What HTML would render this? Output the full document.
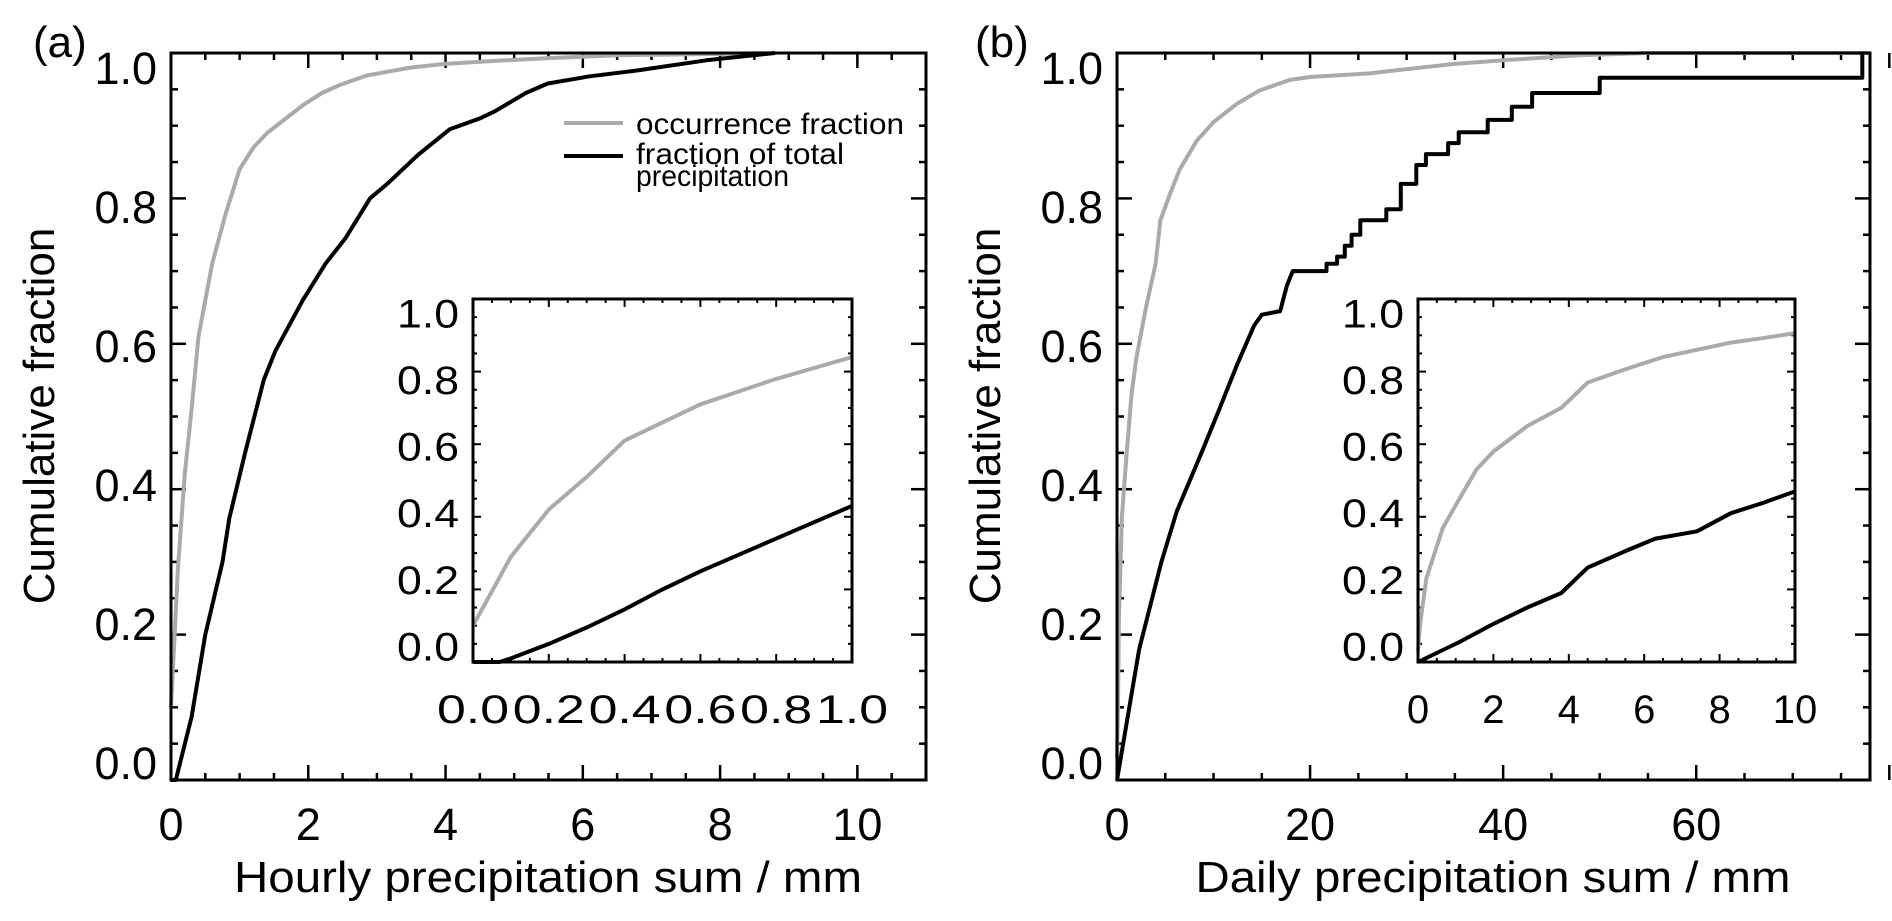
<!DOCTYPE html>
<html><head><meta charset="utf-8"><style>
html,body{margin:0;padding:0;background:#fff;}
svg{display:block;font-family:"Liberation Sans",Arial,sans-serif;}
</style></head><body>
<svg id="fig" width="1892" height="921" viewBox="0 0 1892 921" xmlns="http://www.w3.org/2000/svg">
<rect width="1892" height="921" fill="#fff"/>
<text x="33" y="57" font-size="44">(a)</text>
<text x="975" y="57" font-size="44">(b)</text>
<text transform="translate(54,416) rotate(-90)" text-anchor="middle" font-size="44">Cumulative fraction</text>
<text transform="translate(1000,416) rotate(-90)" text-anchor="middle" font-size="44">Cumulative fraction</text>
<text x="548" y="892" text-anchor="middle" font-size="44" textLength="628" lengthAdjust="spacingAndGlyphs">Hourly precipitation sum / mm</text>
<text x="1493" y="892" text-anchor="middle" font-size="44" textLength="595" lengthAdjust="spacingAndGlyphs">Daily precipitation sum / mm</text>
<g>
<line x1="564" y1="123" x2="623" y2="123" stroke="#aaa" stroke-width="4"/>
<text x="636" y="134" font-size="30" textLength="268" lengthAdjust="spacingAndGlyphs">occurrence fraction</text>
<line x1="564" y1="156" x2="623" y2="156" stroke="#000" stroke-width="4"/>
<text x="636" y="164" font-size="30" textLength="208" lengthAdjust="spacingAndGlyphs">fraction of total</text>
<text x="636" y="186" font-size="30" textLength="153" lengthAdjust="spacingAndGlyphs">precipitation</text>
</g>
</svg>
<script>
// Panel (a) main: hourly
const aOccX = [0,0.1,0.2,0.3,0.4,0.5,0.6,0.7,0.8,0.9,1.0,1.2,1.4,1.7,1.95,2.2,2.46,2.85,3.2,3.5,4.0,4.5,5.5,6.5,7.4,8.8];
const aOccY = [0.1,0.29,0.42,0.51,0.61,0.66,0.71,0.745,0.78,0.81,0.84,0.87,0.89,0.912,0.93,0.945,0.956,0.969,0.975,0.98,0.985,0.988,0.993,0.997,0.998,1.0];
const aTotX = [0,0.07,0.3,0.5,0.75,0.85,1.08,1.35,1.52,1.92,2.25,2.54,2.9,3.15,3.6,4.06,4.5,4.72,5.17,5.49,6.1,6.8,7.8,8.8];
const aTotY = [0,0,0.087,0.2,0.3,0.36,0.45,0.55,0.59,0.66,0.71,0.745,0.8,0.82,0.86,0.895,0.91,0.92,0.945,0.958,0.968,0.976,0.99,1.0];
// Panel (a) inset
const aiOccX = [0,0.1,0.2,0.3,0.4,0.5,0.6,0.7,0.8,0.9,1.0];
const aiOccY = [0.1,0.29,0.42,0.51,0.61,0.66,0.71,0.745,0.78,0.81,0.84];
const aiTotX = [0,0.07,0.1,0.2,0.3,0.4,0.5,0.6,0.7,0.8,0.9,1.0];
const aiTotY = [0,0,0.01,0.05,0.095,0.145,0.2,0.25,0.295,0.34,0.385,0.43];
// Panel (b) main: daily
const bOccX = [0,0.1,0.2,0.5,1,1.5,2,3,4,4.5,5.6,6.5,7.4,8.3,9.2,10,12.4,14.7,17.9,20,26.2,30.8,35,40,48,55,78];
const bOccY = [0.03,0.1,0.22,0.36,0.45,0.53,0.58,0.65,0.71,0.77,0.81,0.84,0.86,0.88,0.893,0.905,0.93,0.948,0.963,0.967,0.972,0.979,0.985,0.99,0.997,1.0,1.0];
const bTotX = [0,2.3,4.6,6.2,8.75,10.6,12.4,14.2,15,16.9,17.2,17.6,18.2,21.7,21.7,22.8,22.8,23.6,23.6,24.3,24.3,25.2,25.2,27.9,27.9,29.4,29.4,31.0,31.0,32.0,32.0,34.3,34.3,35.4,35.4,38.4,38.4,40.9,40.9,43,43,50,50,77.2,77.2];
const bTotY = [0,0.18,0.30,0.37,0.45,0.51,0.57,0.625,0.64,0.645,0.66,0.68,0.70,0.70,0.71,0.71,0.72,0.72,0.735,0.735,0.75,0.75,0.77,0.77,0.785,0.785,0.82,0.82,0.846,0.846,0.861,0.861,0.876,0.876,0.891,0.891,0.908,0.908,0.926,0.926,0.945,0.945,0.966,0.966,1.0];
// Panel (b) inset
const biOccX = [0,0.05,0.22,0.66,1.1,1.55,2,2.9,3.8,4.5,5.6,6.5,7.4,8.3,9.2,10];
const biOccY = [0.03,0.1,0.23,0.37,0.45,0.53,0.58,0.65,0.70,0.77,0.81,0.84,0.86,0.88,0.893,0.906];
const biTotX = [0,1.1,2,2.9,3.8,4.5,5.6,6.3,7.4,8.3,9.2,10];
const biTotY = [0,0.055,0.105,0.15,0.19,0.26,0.31,0.34,0.36,0.41,0.44,0.47];
// Tick labels
const mainYTicks = ["0.0","0.2","0.4","0.6","0.8","1.0"];
const aXTicks = ["0","2","4","6","8","10"];
const bXTicks = ["0","20","40","60"];
const aiXTicks = ["0.0","0.2","0.4","0.6","0.8","1.0"];
const biXTicks = ["0","2","4","6","8","10"];

const NS = "http://www.w3.org/2000/svg";
const svg = document.getElementById('fig');
function mk(tag, attrs, parent){
  const e = document.createElementNS(NS, tag);
  for (const k in attrs) e.setAttribute(k, attrs[k]);
  (parent||svg).appendChild(e);
  return e;
}
function panel(p){
  const g = mk('g', {});
  
  
  const sx = v => p.x0 + (v - p.xmin) / (p.xmax - p.xmin) * (p.x1 - p.x0);
  const sy = v => p.y1 - (v - p.ymin) / (p.ymax - p.ymin) * (p.y1 - p.y0);
  const tg = mk('g', {stroke:'#000','stroke-width':p.tw}, g);
  
  
  const nx = Math.round((p.xmax - p.xmin) / p.xminor);
  for (let i = 0; i <= nx; i++){
    const v = p.xmin + i * p.xminor;
    const major = Math.abs(v / p.xmajor - Math.round(v / p.xmajor)) < 1e-6;
    const L = major ? p.tmaj : p.tmin;
    const X = sx(v);
    mk('line', {x1:X, y1:p.y1, x2:X, y2:p.y1 - L}, tg);
    mk('line', {x1:X, y1:p.y0, x2:X, y2:p.y0 + L}, tg);
  }
  const ny = Math.round((p.ymax - p.ymin) / p.yminor);
  for (let i = 0; i <= ny; i++){
    const v = p.ymin + i * p.yminor;
    const major = Math.abs(v / p.ymajor - Math.round(v / p.ymajor)) < 1e-6;
    const L = major ? p.tmaj : p.tmin;
    const Y = sy(v);
    mk('line', {x1:p.x0, y1:Y, x2:p.x0 + L, y2:Y}, tg);
    mk('line', {x1:p.x1, y1:Y, x2:p.x1 - L, y2:Y}, tg);
  }
  p.series.forEach(s => {
    const pts = s.xs.map((x, i) => sx(x).toFixed(1) + ',' + sy(s.ys[i]).toFixed(1)).join(' ');
    const pl = mk('polyline', {points:pts, fill:'none', stroke:s.color, 'stroke-width':s.w, 'stroke-linejoin':'round'}, g);
    
    
  });
  const fr = mk('rect', {x:p.x0, y:p.y0, width:p.x1 - p.x0, height:p.y1 - p.y0, fill:'none', stroke:'#000', 'stroke-width':p.fw}, g);
  
  
  p.yLabels.forEach((t, i) => {
    const v = parseFloat(t);
    const cy = p.ylTop + (p.ymax - v) / (p.ymax - p.ymin) * (p.ylBot - p.ylTop);
    const attrs = {x:p.x0 - 14, y:cy + p.fs * 0.36, 'text-anchor':'end', 'font-size':p.fs};
    if (p.ylLen) { attrs.textLength = p.ylLen; attrs.lengthAdjust = 'spacingAndGlyphs'; }
    const el = mk('text', attrs, g);
    el.textContent = t;
    
    
  });
  p.xLabels.forEach(t => {
    const v = parseFloat(t);
    const attrs = {x:sx(v), y:p.xlY, 'text-anchor':'middle', 'font-size':p.fs};
    if (p.xlLen) { attrs.textLength = p.xlLen; attrs.lengthAdjust = 'spacingAndGlyphs'; }
    const el = mk('text', attrs, g);
    el.textContent = t;
    
    
  });
}
panel({name:'panel-a', x0:171, x1:926, y0:53, y1:780, xmin:0, xmax:11, ymin:0, ymax:1,
  xminor:0.5, xmajor:2, yminor:0.05, ymajor:0.2, tmaj:15, tmin:7, tw:2.5, fw:3,
  fs:45, ylTop:68, ylBot:763, xlY:840, yLabels:mainYTicks, xLabels:aXTicks,
  series:[{name:'panel-a-occurrence-line', xs:aOccX, ys:aOccY, color:'#aaa', w:4},
          {name:'panel-a-total-line', xs:aTotX, ys:aTotY, color:'#000', w:4}]});
panel({name:'panel-b', x0:1117, x1:1870, y0:53, y1:780, xmin:0, xmax:78, ymin:0, ymax:1,
  xminor:5, xmajor:20, yminor:0.05, ymajor:0.2, tmaj:15, tmin:7, tw:2.5, fw:3,
  fs:45, ylTop:68, ylBot:763, xlY:840, yLabels:mainYTicks, xLabels:bXTicks,
  series:[{name:'panel-b-occurrence-line', xs:bOccX, ys:bOccY, color:'#aaa', w:4},
          {name:'panel-b-total-line', xs:bTotX, ys:bTotY, color:'#000', w:4}]});
const insetA = mk('rect', {x:473, y:299, width:379, height:363, fill:'#fff'});


panel({name:'panel-a-inset', x0:473, x1:852, y0:299, y1:662, xmin:0, xmax:1, ymin:0, ymax:1,
  xminor:0.05, xmajor:0.2, yminor:0.05, ymajor:0.2, tmaj:8, tmin:4, tw:2, fw:3,
  fs:40, ylTop:313, ylBot:646, ylLen:62, xlY:723, xlLen:72, yLabels:mainYTicks, xLabels:aiXTicks,
  series:[{name:'panel-a-inset-occurrence-line', xs:aiOccX, ys:aiOccY, color:'#aaa', w:4},
          {name:'panel-a-inset-total-line', xs:aiTotX, ys:aiTotY, color:'#000', w:4}]});
const insetB = mk('rect', {x:1418, y:299, width:377, height:363, fill:'#fff'});


panel({name:'panel-b-inset', x0:1418, x1:1795, y0:299, y1:662, xmin:0, xmax:10, ymin:0, ymax:1,
  xminor:0.5, xmajor:2, yminor:0.05, ymajor:0.2, tmaj:8, tmin:4, tw:2, fw:3,
  fs:40, ylTop:313, ylBot:646, ylLen:62, xlY:723, yLabels:mainYTicks, xLabels:biXTicks,
  series:[{name:'panel-b-inset-occurrence-line', xs:biOccX, ys:biOccY, color:'#aaa', w:4},
          {name:'panel-b-inset-total-line', xs:biTotX, ys:biTotY, color:'#000', w:4}]});
</script>
</body></html>
